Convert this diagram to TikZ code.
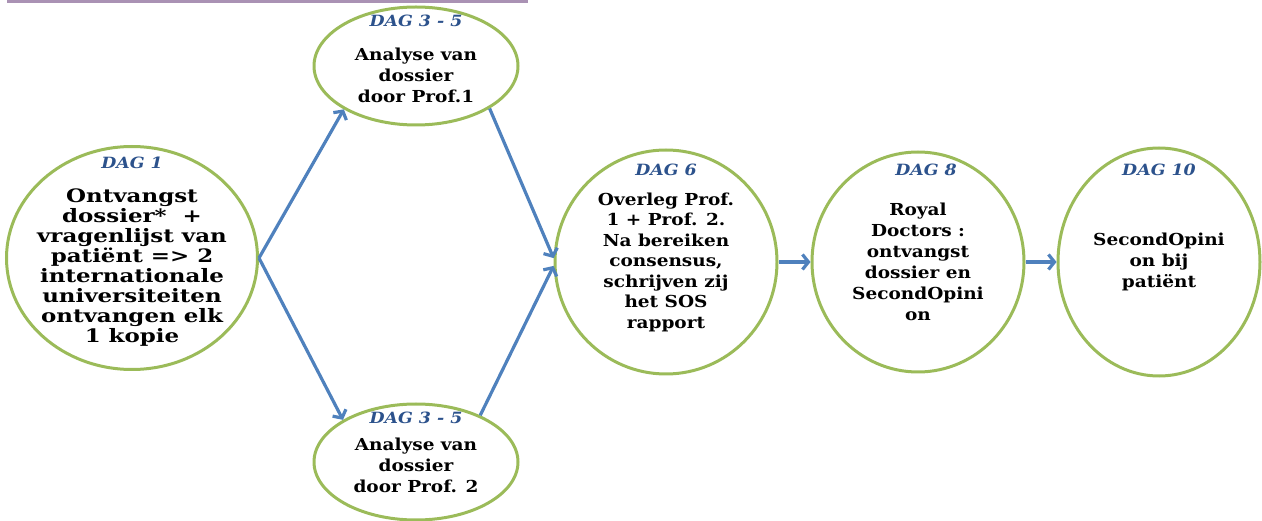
\documentclass[tikz,border=0pt]{standalone}
\usepackage{fontspec}
\setmainfont{DejaVu Serif}[FakeStretch=1.12]
\newfontfamily\widefont{DejaVu Serif}[FakeStretch=1.24]
\usetikzlibrary{shapes.geometric,positioning,arrows.meta}
\definecolor{ringgreen}{RGB}{155,187,89}
\definecolor{flowblue}{RGB}{79,129,189}
\definecolor{daytext}{RGB}{44,82,140}
\definecolor{topline}{RGB}{170,146,180}
\tikzset{
  phase/.style={ellipse, draw=ringgreen, line width=3pt, inner sep=0pt},
  daylabel/.style={font=\bfseries\itshape\fontsize{15.5}{18}\selectfont, text=daytext, inner sep=0pt},
  phasetext/.style={font=\bfseries\fontsize{16.5}{21}\selectfont, align=center, inner sep=0pt},
  flow/.style={draw=flowblue, line width=3.2pt, -{Straight Barb[length=6pt,width=15pt]}}
}
\begin{document}
\begin{tikzpicture}[x=1pt,y=-1pt]
\useasboundingbox (0,0) rectangle (1262,521);
\draw [topline, line width=3pt] (7,1.5) -- (528,1.5);

\node (dag1) at (132,258) [phase, minimum width=251pt, minimum height=223pt] {};
\node (dag1_day) at (dag1.north) [daylabel, yshift=-18pt] {DAG 1};
\node (dag1_txt) at (dag1.center) [phasetext, yshift=-10pt, font=\widefont\bfseries\fontsize{18.5}{20}\selectfont] {Ontvangst\\dossier*~~+\\vragenlijst van\\patiënt => 2\\internationale\\universiteiten\\ontvangen elk\\1 kopie};

\node (prof1) at (416,66) [phase, minimum width=204pt, minimum height=118pt] {};
\node (prof1_day) at (prof1.north) [daylabel, yshift=-15pt] {DAG 3 - 5};
\node (prof1_txt) at (prof1.center) [phasetext, yshift=-9pt] {Analyse van\\dossier\\door Prof.1};

\node (prof2) at (416,462) [phase, minimum width=204pt, minimum height=116pt] {};
\node (prof2_day) at (prof2.north) [daylabel, yshift=-15pt] {DAG 3 - 5};
\node (prof2_txt) at (prof2.center) [phasetext, yshift=-3pt] {Analyse van\\dossier\\door Prof. 2};

\node (dag6) at (666,262) [phase, minimum width=222pt, minimum height=224pt] {};
\node (dag6_day) at (dag6.north) [daylabel, yshift=-21pt] {DAG 6};
\node (dag6_txt) at (dag6.center) [phasetext, font=\bfseries\fontsize{16.5}{20.5}\selectfont] {Overleg Prof.\\1 + Prof. 2.\\Na bereiken\\consensus,\\schrijven zij\\het SOS\\rapport};

\node (dag8) at (918,262) [phase, minimum width=212pt, minimum height=220pt] {};
\node (dag8_day) at (dag8.north) [daylabel, yshift=-19pt, xshift=8pt] {DAG 8};
\node (dag8_txt) at (dag8.center) [phasetext] {Royal\\Doctors :\\ontvangst\\dossier en\\SecondOpini\\on};

\node (dag10) at (1159,262) [phase, minimum width=202pt, minimum height=228pt] {};
\node (dag10_day) at (dag10.north) [daylabel, yshift=-23pt] {DAG 10};
\node (dag10_txt) at (dag10.center) [phasetext] {SecondOpini\\on bij\\patiënt};

\draw [flow] (dag1.east) -- (prof1.211);
\draw [flow] (dag1.east) -- (prof2.150);
\draw [flow] (prof1.330) -- (dag6.178);
\draw [flow] (prof2.36) -- (dag6.182);
\draw [flow] (dag6.east) -- (dag8.west);
\draw [flow] (dag8.east) -- (dag10.west);
\end{tikzpicture}
\end{document}
